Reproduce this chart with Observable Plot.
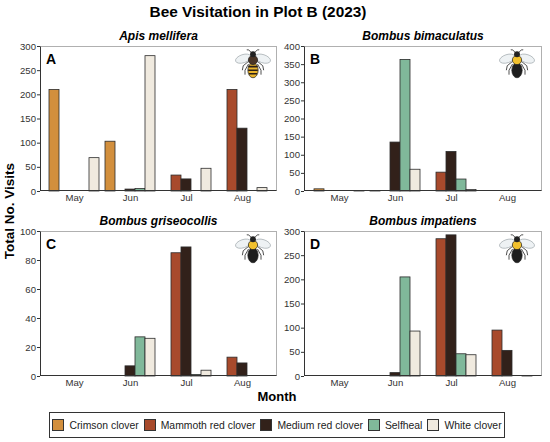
<!DOCTYPE html>
<html><head><meta charset="utf-8">
<script src="https://cdn.jsdelivr.net/npm/d3@7"></script>
<script src="https://cdn.jsdelivr.net/npm/@observablehq/plot@0.6"></script>
<style>
body{margin:0;background:#fff;}
#root{position:relative;width:550px;height:442px;font-family:"Liberation Sans",Arial,Helvetica,sans-serif;color:#000;overflow:hidden;background:#fff;}
.abs{position:absolute;}
.ftitle{position:absolute;font-weight:bold;font-style:italic;font-size:12px;transform:translate(-50%,-50%);white-space:nowrap;}
.letter{position:absolute;font-weight:bold;font-size:14px;line-height:14px;}
.pframe{position:absolute;box-sizing:border-box;border-top:1px solid #b0b0b0;border-right:1px solid #b0b0b0;border-left:1px solid #333;border-bottom:1px solid #333;pointer-events:none;}
.legend{position:absolute;box-sizing:border-box;border:1px solid #333;display:flex;align-items:center;justify-content:center;font-size:10.4px;color:#222;white-space:nowrap;}
.item{display:flex;align-items:center;margin:0 2.5px;flex-shrink:0;}
.sw{width:12px;height:12px;box-sizing:border-box;border:1px solid #333;margin-right:5px;flex-shrink:0;}
</style></head><body><div id="root"></div>
<script>
const months = ["May","Jun","Jul","Aug"];
const clovers = ["Crimson clover","Mammoth red clover","Medium red clover","Selfheal","White clover"];
const cloverColors = ["#D28F3D","#A84A2C","#32211A","#80B89A","#F0EADF"];
const species = ["Apis mellifera","Bombus bimaculatus","Bombus griseocollis","Bombus impatiens"];
const panelLetters = ["A","B","C","D"];
// rows = months (May..Aug), columns = clovers in order above
const apisValues  = [[210,0,0,0,69],[103,0,4,5,280],[0,33,25,0,47],[0,210,130,0,7]];
const bimacValues = [[6,0,0,0,1],[1,0,135,363,60],[0,52,109,33,4],[0,0,0,0,0]];
const griseValues = [[0,0,0,0,0],[0,0,7,27,26],[0,85,89,1,4],[0,13,9,0,0]];
const impatValues = [[0,0,0,0,0],[0,0,7,205,93],[0,284,292,46,44],[0,95,53,0,1]];
const yMax = [300,400,100,300];
const yTicks = [[0,50,100,150,200,250,300],[0,50,100,150,200,250,300,350,400],[0,20,40,60,80,100],[0,50,100,150,200,250,300]];
const allValues = [apisValues,bimacValues,griseValues,impatValues];

const root = document.getElementById("root");
function add(html){root.insertAdjacentHTML("beforeend",html);}

add(`<div class="abs" style="left:258px;top:12px;transform:translate(-50%,-50%);font-weight:bold;font-size:15.4px;white-space:nowrap;">Bee Visitation in Plot B (2023)</div>`);
add(`<div class="abs" style="left:9px;top:211px;transform:translate(-50%,-50%) rotate(-90deg);font-weight:bold;font-size:13.5px;white-space:nowrap;">Total No. Visits</div>`);
add(`<div class="abs" style="left:277px;top:396px;transform:translate(-50%,-50%);font-weight:bold;font-size:13px;white-space:nowrap;">Month</div>`);

const panels = [
  {L:40,T:46,W:237,H:145},
  {L:304,T:46,W:238,H:145},
  {L:40,T:231,W:237,H:145},
  {L:304,T:231,W:238,H:145}
];

function bee(kind){
  const apis = kind===0;
  const thorax = apis ? "#4a3526" : "#f2c12e";
  const abd = apis ? "#e9b52c" : "#1e1e1e";
  const stripes = apis ? `<path d="M14.8 21h10.4M14.6 25h10.8M15.5 29h9" stroke="#2a1f18" stroke-width="1.8"/>` : "";
  return `<svg width="36" height="32" viewBox="0 0 40 36">
   <g stroke="#222" stroke-width="0.9" fill="none">
    <path d="M18 5 Q15 1 13 2"/><path d="M22 5 Q25 1 27 2"/>
    <path d="M15 15 L9 20 L8 25"/><path d="M25 15 L31 20 L32 25"/>
    <path d="M15 18 L11 25 L11 30"/><path d="M25 18 L29 25 L29 30"/>
   </g>
   <ellipse cx="9" cy="12" rx="9" ry="4.6" transform="rotate(-18 9 12)" fill="#eef2f4" stroke="#9aa3a8" stroke-width="0.7"/>
   <ellipse cx="31" cy="12" rx="9" ry="4.6" transform="rotate(18 31 12)" fill="#eef2f4" stroke="#9aa3a8" stroke-width="0.7"/>
   <ellipse cx="20" cy="25" rx="5.8" ry="8.5" fill="${abd}" stroke="#222" stroke-width="0.8"/>
   ${stripes}
   <circle cx="20" cy="13.5" r="5.2" fill="${thorax}" stroke="#222" stroke-width="0.8"/>
   <circle cx="20" cy="7" r="3.3" fill="#222"/>
  </svg>`;
}
const beePos = [[253,64],[517,64],[253,249],[517,249]];
const plotStyle = {fontFamily:'"Liberation Sans",Arial,Helvetica,sans-serif', fontSize:"9.6px", color:"#333", background:"transparent", overflow:"visible"};

panels.forEach((p,k)=>{
  const vals = allValues[k];
  const data = [];
  months.forEach((m,i)=>clovers.forEach((c,j)=>{ if(vals[i][j]>0) data.push({month:m, clover:c, value:vals[i][j]}); }));
  const mt=8, mb=20, ml=40, mr=3;
  const dims = {width: p.W+ml+mr, height: p.H+mt+mb, marginLeft: ml, marginRight: mr, marginTop: mt, marginBottom: mb};
  const chart = Plot.plot({
    ...dims,
    style: plotStyle,
    fx:{domain: months, paddingInner:0.1, paddingOuter:0.15, label:null, axis:"bottom", tickSize:0, tickPadding:3},
    x:{domain: clovers, padding:0, axis:null},
    y:{domain:[0,yMax[k]], axis:null},
    color:{domain: clovers, range: cloverColors},
    marks:[
      Plot.barY(data,{fx:"month", x:"clover", y:"value", fill:"clover", stroke:"#2b2b2b", strokeWidth:0.8})
    ]
  });
  // y axis drawn on the panel frame (not the first facet) by an overlay plot sharing the same y scale
  const yAxisChart = Plot.plot({
    ...dims,
    style: plotStyle,
    x:{domain:[0,1], axis:null},
    y:{domain:[0,yMax[k]], ticks: yTicks[k], tickSize:3, tickPadding:1.5, label:null},
    marks:[ Plot.ruleY(yTicks[k], {strokeOpacity:0}) ]
  });
  [chart, yAxisChart].forEach(c=>{
    c.style.position="absolute";
    c.style.left=(p.L-ml)+"px";
    c.style.top=(p.T-mt)+"px";
    root.appendChild(c);
  });
  add(`<div class="pframe" style="left:${p.L}px;top:${p.T}px;width:${p.W}px;height:${p.H}px;"></div>`);
  add(`<div class="ftitle" style="left:${p.L+p.W/2}px;top:${p.T-10}px;">${species[k]}</div>`);
  add(`<div class="letter" style="left:${p.L+6}px;top:${p.T+6}px;">${panelLetters[k]}</div>`);
  add(`<div class="abs" style="left:${beePos[k][0]-18}px;top:${beePos[k][1]-16}px;">${bee(k)}</div>`);
});

let leg = `<div class="legend" style="left:49px;top:412px;width:456px;height:26px;">`;
clovers.forEach((c,i)=>{ leg += `<div class="item"><div class="sw" style="background:${cloverColors[i]}"></div><span>${c}</span></div>`; });
leg += `</div>`;
add(leg);
</script></body></html>
